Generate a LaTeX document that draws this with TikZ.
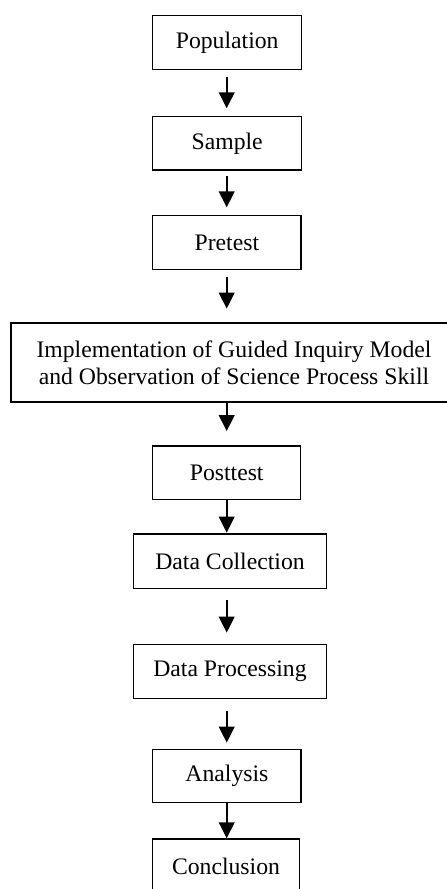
\documentclass[tikz,border=0pt]{standalone}
\usepackage{fontspec}
\setmainfont{Liberation Serif}
\usetikzlibrary{arrows.meta}
\begin{document}
\begin{tikzpicture}[x=1pt,y=-1pt,
  box/.style={draw,line width=1.3pt,inner sep=0pt,align=center,
    font=\fontsize{23.7}{27}\selectfont},
  flow/.style={line width=2.3pt,-{Triangle[length=16pt,width=15.5pt]}}]
\useasboundingbox (0,0) rectangle (447,889);
\clip (0,0) rectangle (447,889);
\fill[white] (0,0) rectangle (447,889);

% process boxes
\node[box,minimum width=149pt,minimum height=53.6pt] (pop) at (227.2,42.5) {Population};
\node[box,minimum width=149pt,minimum height=53.3pt] (sam) at (227.2,143.3) {Sample};
\node[box,minimum width=148.3pt,minimum height=53.6pt] (pre) at (226.9,242.5) {Pretest};
\node[box,minimum width=446pt,minimum height=79pt] (imp) at (234,362.5)
  {Implementation of Guided Inquiry Model\\and Observation of Science Process Skill};
\node[box,minimum width=148pt,minimum height=53.3pt] (post) at (226.7,472.7) {Posttest};
\node[box,minimum width=193.4pt,minimum height=54.3pt] (col) at (230,561.2) {Data Collection};
\node[box,minimum width=193.4pt,minimum height=54pt] (proc) at (230,671.3) {Data Processing};
\node[box,minimum width=148.3pt,minimum height=53.4pt] (ana) at (226.9,776) {Analysis};
% the last box runs past the lower edge of the page
\node[box,minimum width=146.6pt,minimum height=54pt,anchor=north] (con) at (226,838.3) {Conclusion};

% arrows on a common vertical axis
\coordinate (ax) at (226.7,0);
\draw[flow,shorten <=6.7pt,shorten >=7.7pt] (pop.south -| ax) -- (sam.north -| ax);
\draw[flow,shorten <=5pt,shorten >=7.7pt] (sam.south -| ax) -- (pre.north -| ax);
\draw[flow,shorten <=6.7pt,shorten >=13.7pt] (pre.south -| ax) -- (imp.north -| ax);
\draw[flow,shorten >=14.3pt] (imp.south -| ax) -- (post.north -| ax);
\draw[flow,shorten >=0.7pt] (post.south -| ax) -- (col.north -| ax);
\draw[flow,shorten <=11pt,shorten >=11pt] (col.south -| ax) -- (proc.north -| ax);
\draw[flow,shorten <=11.7pt,shorten >=6pt] (proc.south -| ax) -- (ana.north -| ax);
\draw[flow] (ana.south -| ax) -- (con.north -| ax);
\end{tikzpicture}
\end{document}
